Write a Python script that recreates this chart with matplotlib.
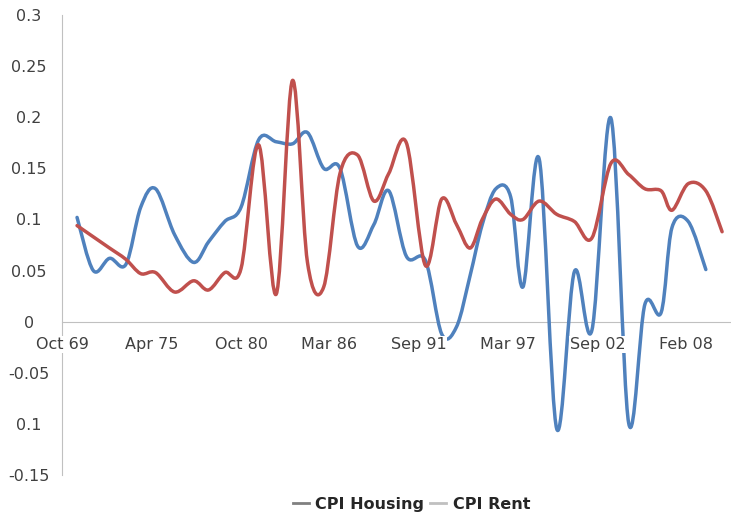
import numpy as np
import pandas as pd
import matplotlib
matplotlib.use("Agg")
import matplotlib.pyplot as plt
import matplotlib.dates as mdates
from matplotlib.path import Path
from matplotlib.patches import PathPatch
from matplotlib.lines import Line2D

obs_dates = ["1970-09", "1971-09", "1972-09", "1973-09", "1974-08", "1975-07", "1976-09",
             "1977-11", "1978-10", "1979-10", "1980-10", "1981-11", "1982-12", "1983-12",
             "1984-11", "1985-11", "1986-11", "1987-12", "1988-12", "1989-11", "1990-12",
             "1992-02", "1993-02", "1994-01", "1994-11", "1995-08", "1996-06", "1997-05",
             "1998-02", "1999-02", "2000-03", "2001-04", "2002-05", "2003-07", "2004-08",
             "2005-08", "2006-08", "2007-04", "2008-04", "2009-05", "2010-05"]

cpi_housing = [0.102, 0.050, 0.062, 0.056, 0.112, 0.130, 0.085, 0.058, 0.078, 0.098,
               0.112, 0.178, 0.176, 0.174, 0.185, 0.150, 0.150, 0.074, 0.095, 0.128,
               0.064, 0.060, -0.012, -0.005, 0.045, 0.095, 0.130, 0.122, 0.034, 0.159,
               -0.105, 0.049, -0.008, 0.199, -0.099, 0.017, 0.009, 0.092, 0.098, 0.051]

cpi_rent = [0.094, 0.083, 0.072, 0.061, 0.047, 0.048, 0.029, 0.040, 0.031, 0.048,
            0.052, 0.173, 0.027, 0.236, 0.058, 0.034, 0.145, 0.163, 0.118, 0.145,
            0.175, 0.055, 0.120, 0.095, 0.072, 0.100, 0.120, 0.105, 0.100, 0.118,
            0.105, 0.098, 0.082, 0.155, 0.144, 0.130, 0.128, 0.109, 0.135, 0.128,
            0.088]

xtick_labels = ["Oct 69", "Apr 75", "Oct 80", "Mar 86", "Sep 91", "Mar 97", "Sep 02", "Feb 08"]
ytick_values = [-0.15, -0.1, -0.05, 0, 0.05, 0.1, 0.15, 0.2, 0.25, 0.3]
ytick_labels = ["-0.15", "0.1", "-0.05", "0", "0.05", "0.1", "0.15", "0.2", "0.25", "0.3"]

blue = "#4f81bd"
red = "#c0504d"


def smooth_path(x, y):
    # excel-like smoothed line: bezier segments through every point
    pts = np.column_stack([x, y])
    n = len(pts)
    verts = [pts[0]]
    codes = [Path.MOVETO]
    for i in range(n - 1):
        p0 = pts[max(i - 1, 0)]
        p1 = pts[i]
        p2 = pts[i + 1]
        p3 = pts[min(i + 2, n - 1)]
        verts += [p1 + (p2 - p0) / 6, p2 - (p3 - p1) / 6, p2]
        codes += [Path.CURVE4] * 3
    return Path(verts, codes)


plt.rcParams["font.family"] = "DejaVu Sans"

fig = plt.figure(figsize=(7.31, 5.18), dpi=100)
ax = fig.add_axes([0.085, 0.083, 0.915, 0.888])

xnum = mdates.date2num(pd.to_datetime(obs_dates))
ax.add_patch(PathPatch(smooth_path(xnum[:len(cpi_housing)], cpi_housing), fill=False,
                       edgecolor=blue, lw=2.5, capstyle="round", joinstyle="round", zorder=3))
ax.add_patch(PathPatch(smooth_path(xnum, cpi_rent), fill=False,
                       edgecolor=red, lw=2.5, capstyle="round", joinstyle="round", zorder=3))

tick_dates = mdates.date2num(pd.to_datetime(xtick_labels, format="%b %y"))
ax.set_xlim(tick_dates[0], xnum[-1] + 200)
ax.set_ylim(-0.15, 0.3)

ax.set_xticks(tick_dates)
ax.set_xticklabels(xtick_labels)
ax.set_yticks(ytick_values)
ax.set_yticklabels(ytick_labels)

for s in ["top", "right"]:
    ax.spines[s].set_visible(False)
ax.spines["bottom"].set_position(("data", 0))
ax.spines["bottom"].set_color("#c0c0c0")
ax.spines["left"].set_color("#c0c0c0")
ax.spines["bottom"].set_zorder(2)
ax.spines["left"].set_zorder(2)

ax.tick_params(axis="x", length=0, pad=11, labelsize=11.5, labelcolor="#404040")
ax.tick_params(axis="y", length=0, pad=24, labelsize=11.5, labelcolor="#404040")
for lab in ax.get_yticklabels():
    lab.set_horizontalalignment("center")
for lab in ax.get_xticklabels():
    lab.set_bbox(dict(facecolor="white", edgecolor="none", pad=0.5))
ax.xaxis.set_zorder(4)

handles = [Line2D([], [], color="#808080", lw=2),
           Line2D([], [], color="#c0c0c0", lw=2)]
fig.legend(handles, ["CPI Housing", "CPI Rent"], loc="center", ncol=2,
           bbox_to_anchor=(0.563, 0.027), frameon=False, handlelength=1.0,
           handletextpad=0.4, columnspacing=0.4,
           prop={"weight": "bold", "size": 11.5})
for t in fig.legends[0].get_texts():
    t.set_color("#262626")

fig.savefig("out.png", dpi=100)
